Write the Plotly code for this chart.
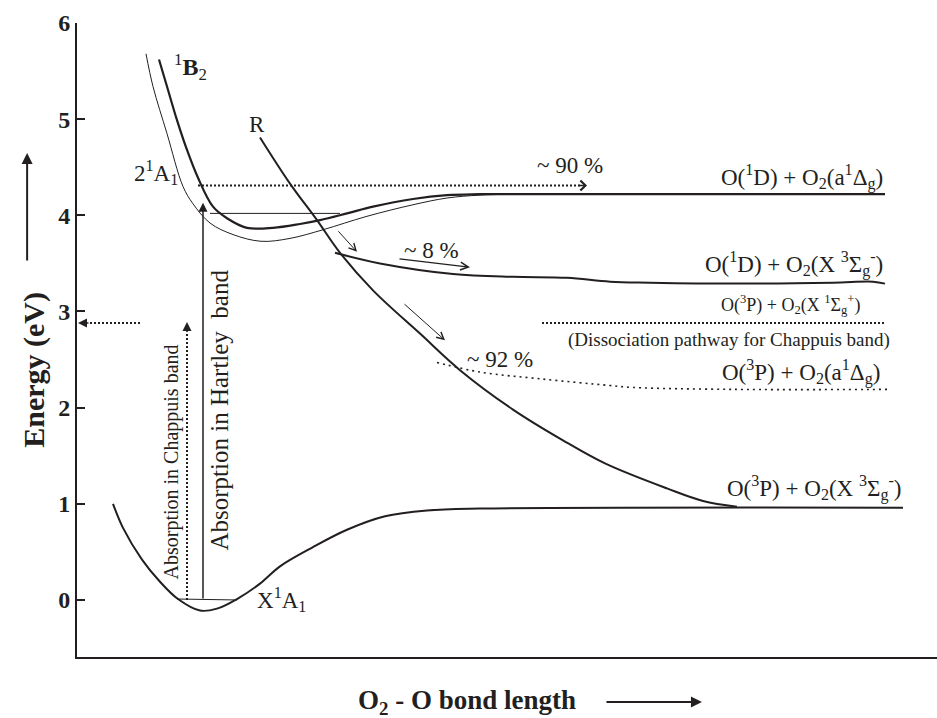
import plotly.graph_objects as go

# ---------------- data (bond length: arbitrary units, energy: eV) ----------------
# ground state X1A1
x_x1a1 = [0.36, 0.46, 0.65, 0.83, 1.01, 1.23, 1.40, 1.60, 1.83, 2.03, 2.36, 2.70, 3.08, 3.50, 4.03, 8.26]
e_x1a1 = [1.00, 0.75, 0.42, 0.19, 0.01, -0.11, -0.09, 0.01, 0.17, 0.35, 0.55, 0.73, 0.87, 0.93, 0.95, 0.96]

# 1B2 state (thick)
x_1b2 = [0.82, 0.90, 1.00, 1.10, 1.21, 1.36, 1.50, 1.70, 1.96, 2.23, 2.43, 2.70, 2.96, 3.36, 3.70, 4.03, 8.08]
e_1b2 = [5.62, 5.34, 4.99, 4.68, 4.39, 4.09, 3.97, 3.87, 3.87, 3.91, 3.95, 4.02, 4.09, 4.17, 4.21, 4.22, 4.22]

# 2 1A1 state (thin)
x_21a1 = [0.69, 0.76, 0.90, 1.06, 1.16, 1.33, 1.56, 1.84, 2.13, 2.46, 2.90, 3.36, 3.70, 4.03, 4.40]
e_21a1 = [5.68, 5.34, 4.85, 4.30, 4.12, 3.92, 3.80, 3.73, 3.76, 3.85, 3.99, 4.11, 4.18, 4.21, 4.22]

# repulsive R state
x_r = [1.83, 2.13, 2.40, 2.63, 2.96, 3.43, 3.83, 4.36, 4.86, 5.28, 5.90, 6.26, 6.60]
e_r = [4.81, 4.33, 3.95, 3.61, 3.22, 2.77, 2.39, 1.98, 1.66, 1.42, 1.16, 1.03, 0.97]

# O(1D) + O2(X 3Sigma) channel
x_1dx = [2.58, 3.03, 3.76, 4.36, 4.90, 5.33, 5.73, 6.56, 7.56, 7.96, 8.08]
e_1dx = [3.61, 3.50, 3.39, 3.36, 3.35, 3.31, 3.30, 3.29, 3.30, 3.31, 3.29]

# O(3P) + O2(a 1Delta) channel (dotted)
x_3pa = [3.60, 4.03, 4.63, 5.33, 5.56, 6.56, 8.10]
e_3pa = [2.47, 2.37, 2.30, 2.23, 2.21, 2.19, 2.19]

# vibrational levels / transitions
x_v0 = [1.00, 1.60]
e_v0 = [0.01, 0.00]
x_vexc = [1.33, 2.63]
e_vexc = [4.02, 4.02]
x_hartley = 1.26
e_hartley = [0.00, 4.13]
x_chappuis = 1.10
e_chappuis = [0.00, 2.89]
x_chap_level = [4.65, 8.08]
e_chap_level = 2.88
x_chap_left = [0.63, 0.01]
x_90 = [1.21, 5.10]
e_90 = 4.31

y_ticks = [0, 1, 2, 3, 4, 5, 6]

# ---------------- styling ----------------
INK = "#231f20"
FONT = "Liberation Serif, Times New Roman, serif"

fig = go.Figure()

def curve(x, y, width=2, dash=None, shape="spline"):
    fig.add_trace(go.Scatter(x=x, y=y, mode="lines", hoverinfo="skip",
                             line=dict(color=INK, width=width, dash=dash, shape=shape, smoothing=1.0),
                             showlegend=False, cliponaxis=False))

curve(x_x1a1, e_x1a1, 2)
curve(x_21a1, e_21a1, 1)
curve(x_1b2, e_1b2, 2.2)
curve(x_r, e_r, 2)
curve(x_1dx, e_1dx, 2)
curve(x_3pa, e_3pa, 1.6, dash="2px,4px")
curve(x_v0, e_v0, 1, shape="linear")
curve(x_vexc, e_vexc, 1, shape="linear")
curve([x_chappuis, x_chappuis], [e_chappuis[0], e_chappuis[1] - 0.1], 2, dash="2px,2px", shape="linear")
curve(x_chap_level, [e_chap_level] * 2, 2, dash="2px,2px", shape="linear")
curve([x_chap_left[0], x_chap_left[1] + 0.1], [e_chap_level] * 2, 2, dash="2px,2px", shape="linear")
curve([x_90[0], x_90[1] - 0.05], [e_90] * 2, 2, dash="2px,2px", shape="linear")

annotations = []

def arrow(x0, y0, x1, y1, head=2, width=1.5, size=1.0):
    annotations.append(dict(x=x1, y=y1, ax=x0, ay=y0, xref="x", yref="y", axref="x", ayref="y",
                            text="", showarrow=True, arrowhead=head, arrowwidth=width,
                            arrowsize=size, arrowcolor=INK, standoff=0, startstandoff=0))

# transitions
arrow(x_hartley, e_hartley[0], x_hartley, e_hartley[1], head=2, width=1.5, size=1.2)
arrow(x_chappuis, e_chappuis[1] - 0.12, x_chappuis, e_chappuis[1], head=2, width=1.5, size=1.2)
arrow(x_chap_left[1] + 0.12, e_chap_level, x_chap_left[1], e_chap_level, head=2, width=1.5, size=1.2)
arrow(x_90[1] - 0.1, e_90, x_90[1], e_90, head=4, width=1.5, size=1.3)
arrow(3.21, 3.55, 3.93, 3.46, head=5, width=1.2, size=1.3)
arrow(2.60, 3.85, 2.80, 3.62, head=5, width=1, size=1.4)
arrow(3.26, 3.09, 3.68, 2.70, head=5, width=1, size=1.4)

def label(x, y, text, size=22, xanchor="center", angle=0, bold=False, ref="x"):
    annotations.append(dict(x=x, y=y, xref="x" if ref == "x" else "paper",
                            yref="y" if ref == "x" else "paper", text=text, showarrow=False,
                            xanchor=xanchor, yanchor="middle", textangle=angle,
                            font=dict(family=FONT, size=size, color=INK,
                                      weight="bold" if bold else "normal")))

label(8.08, 4.40, "O(<sup>1</sup>D) + O<sub>2</sub>(a<sup>1</sup>Δ<sub>g</sub>)", size=23, xanchor="right")
label(8.08, 3.49, "O(<sup>1</sup>D) + O<sub>2</sub>(X <sup>3</sup>Σ<sub>g</sub><sup>-</sup>)", size=23, xanchor="right")
label(7.85, 3.07, "O(<sup>3</sup>P) + O<sub>2</sub>(X <sup>1</sup>Σ<sub>g</sub><sup>+</sup>)", size=18, xanchor="right")
label(8.15, 2.70, "(Dissociation pathway for Chappuis band)", size=19, xanchor="right")
label(8.05, 2.37, "O(<sup>3</sup>P) + O<sub>2</sub>(a<sup>1</sup>Δ<sub>g</sub>)", size=23, xanchor="right")
label(8.26, 1.16, "O(<sup>3</sup>P) + O<sub>2</sub>(X <sup>3</sup>Σ<sub>g</sub><sup>-</sup>)", size=23, xanchor="right")
label(4.58, 4.52, "~ 90 %", size=23, xanchor="left")
label(3.25, 3.63, "~ 8 %", size=23, xanchor="left")
label(3.88, 2.50, "~ 92 %", size=23, xanchor="left")
label(0.95, 5.54, "<sup>1</sup><b>B</b><sub>2</sub>", size=24, xanchor="left")
label(1.80, 4.94, "R", size=23)
label(0.55, 4.45, "2<sup>1</sup>A<sub>1</sub>", size=23, xanchor="left")
label(1.78, 0.00, "X<sup>1</sup>A<sub>1</sub>", size=23, xanchor="left")
label(0.94, 1.43, "Absorption in Chappuis band", size=20, angle=-90)
label(1.43, 1.97, "Absorption in Hartley  band", size=25, angle=-90)

# axis titles with arrows (paper coordinates, outside the plotting area)
label(-0.05, 0.453, "Energy (eV)", size=30, angle=-90, bold=True, ref="paper")
annotations.append(dict(x=-0.058, y=0.795, xref="paper", yref="paper", ax=0, ay=109,
                        axref="pixel", ayref="pixel", text="", showarrow=True, arrowhead=2,
                        arrowwidth=2, arrowsize=1.1, arrowcolor=INK, standoff=0))
label(0.4535, -0.071, "O<sub>2</sub> - O bond length", size=27, bold=True, ref="paper")
annotations.append(dict(x=0.7267, y=-0.071, xref="paper", yref="paper", ax=-97, ay=0,
                        axref="pixel", ayref="pixel", text="", showarrow=True, arrowhead=2,
                        arrowwidth=2, arrowsize=1.1, arrowcolor=INK, standoff=0))

fig.update_layout(
    width=937, height=718,
    margin=dict(l=77, r=0, t=23, b=61, pad=0),
    paper_bgcolor="white", plot_bgcolor="white",
    font=dict(family=FONT, color=INK),
    annotations=annotations,
    xaxis=dict(range=[0, 8.6], showline=True, linecolor=INK, linewidth=2,
               showticklabels=False, ticks="", showgrid=False, zeroline=False),
    yaxis=dict(range=[-0.593, 6], showline=True, linecolor=INK, linewidth=2,
               ticks="inside", ticklen=8, tickwidth=2, tickcolor=INK,
               tickvals=y_ticks, ticktext=[str(v) for v in y_ticks],
               tickfont=dict(family=FONT, size=24, color=INK, weight="bold"),
               showgrid=False, zeroline=False),
)

fig.write_html("out.html")
